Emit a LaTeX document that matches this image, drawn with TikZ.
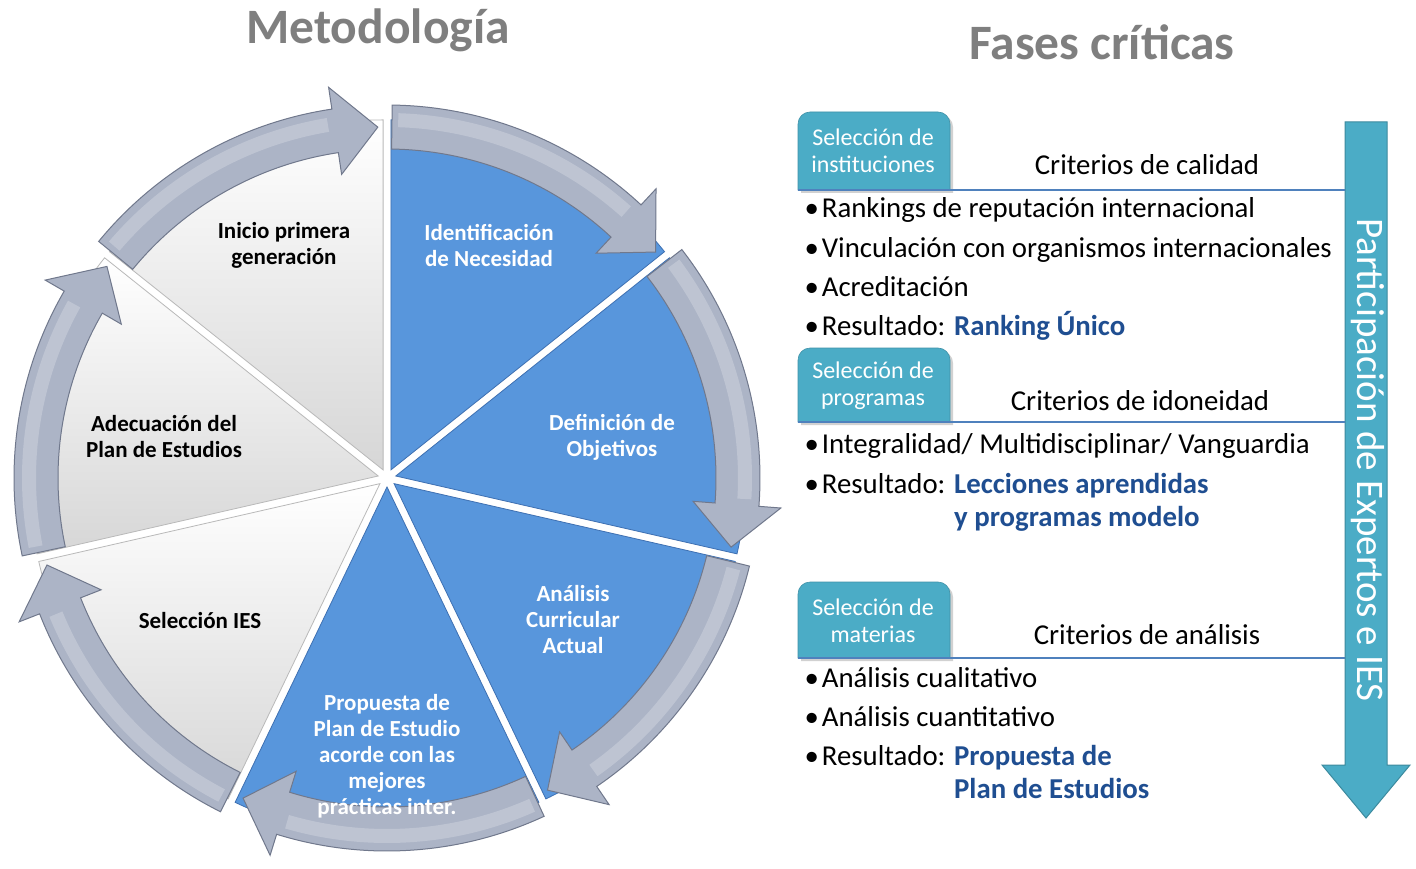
\documentclass[tikz,border=0pt]{standalone}
\usepackage{fontspec}
\setmainfont{Carlito}
\usetikzlibrary{calc}
\definecolor{wedgeblue}{RGB}{88,150,220}
\definecolor{wedgeblueedge}{RGB}{62,112,178}
\definecolor{arrowfill}{RGB}{172,180,198}
\definecolor{arrowedge}{RGB}{112,120,140}
\definecolor{tabteal}{RGB}{75,172,198}
\definecolor{linecol}{RGB}{79,129,189}
\definecolor{resblue}{RGB}{31,78,145}
\definecolor{titlegray}{RGB}{127,127,127}
\newcommand{\pieslice}[3]{%
  \begin{scope}[shift={({(#1+#2)/2}:9pt)}]
    \path[#3] (0,0) -- (#1:350pt) arc[start angle=#1, end angle=#2, radius=350pt] -- cycle;
  \end{scope}}
\newcommand{\cycarrow}[2]{%
  \path[cyc] (#1:373pt) arc[start angle=#1, end angle={#2+7}, radius=373pt]
    -- ({#2+7}:395pt) -- (#2:351pt) -- ({#2+7}:307pt) -- ({#2+7}:329pt)
    arc[start angle={#2+7}, end angle=#1, radius=329pt] -- cycle;
  \draw[white, opacity=0.22, line width=14pt] ({#1-1}:358pt) arc[start angle={#1-1}, end angle={#2+8}, radius=358pt];}
\begin{document}
\begin{tikzpicture}[x=1pt,y=-1pt,
  pielabel/.style={align=center, font=\fontsize{23}{26}\selectfont\bfseries},
  whitelabel/.style={pielabel, text=white},
  blacklabel/.style={pielabel, text=black},
  tabtext/.style={align=center, text=white, font=\fontsize{24}{27}\selectfont},
  crit/.style={anchor=base, font=\fontsize{28.8}{33}\selectfont},
  bulletline/.style={anchor=base west, font=\fontsize{28.8}{33}\selectfont},
  tabshape/.style={fill=tabteal, draw=tabteal!85!black, line width=0.6pt},
  tabrule/.style={draw=linecol, line width=1.6pt},
  bluewedge/.style={fill=wedgeblue, draw=wedgeblueedge, line width=0.8pt},
  graywedge/.style={top color=white, bottom color=gray!32, draw=gray!55, line width=0.8pt},
  cyc/.style={fill=arrowfill, draw=arrowedge, line width=1pt},
  titletext/.style={font=\fontsize{49.5}{52}\selectfont\bfseries, text=titlegray}
]
\fill[white] (0,0) rectangle (1416,869);
\useasboundingbox (0,0) rectangle (1416,869);

% titles
\node[titletext] (t1) at (378,30) {Metodología};
\node[titletext] (t2) at (1102,42) {Fases críticas};

% pie
\begin{scope}[shift={(387,478)}]
  \pieslice{90}{38.571}{bluewedge}
  \pieslice{38.571}{-12.857}{bluewedge}
  \pieslice{-12.857}{-64.286}{bluewedge}
  \pieslice{-64.286}{-115.714}{bluewedge}
  \pieslice{-115.714}{-167.143}{graywedge}
  \pieslice{-167.143}{-218.571}{graywedge}
  \pieslice{141.429}{90}{graywedge}
  \cycarrow{89.2}{40.071}
  \cycarrow{37.771}{-11.357}
  \cycarrow{-13.657}{-62.786}
  \cycarrow{-65.086}{-114.214}
  \cycarrow{-116.514}{-165.643}
  \cycarrow{-167.943}{-217.071}
  \cycarrow{140.629}{91.5}
\end{scope}

% pie labels
\node[blacklabel] (inicio) at (284,245) {Inicio primera\\generación};
\node[whitelabel] (ident) at (489,245) {Identificación\\de Necesidad};
\node[whitelabel] (defin) at (612,437) {Definición de\\Objetivos};
\node[whitelabel] (anal) at (573,620) {Análisis\\Curricular\\Actual};
\node[whitelabel] (prop) at (387,756) {Propuesta de\\Plan de Estudio\\acorde con las\\mejores\\prácticas inter.};
\node[blacklabel] (selies) at (200,621) {Selección IES};
\node[blacklabel] (adec) at (164,437) {Adecuación del\\Plan de Estudios};

% big arrow
\path[fill=tabteal, draw=tabteal!80!black, line width=1pt]
  (1345,122) -- (1387,122) -- (1387,765) -- (1410,765) -- (1366,818) -- (1322,765) -- (1345,765) -- cycle;
\node[rotate=-90, text=white, font=\fontsize{39}{44}\selectfont] (part) at (1368,460) {Participación de Expertos e IES};
\coordinate (ar1) at (1345,190);
\coordinate (ar2) at (1345,422);
\coordinate (ar3) at (1345,658);

% tab 1
\fill[black!18] (801,193) [rounded corners=12pt] -- (801,115) -- (953,115) [sharp corners] -- (953,193) -- cycle;
\path[tabshape] (798,190) [rounded corners=12pt] -- (798,112) -- (950,112) [sharp corners] -- (950,190) -- cycle;
\node[tabtext] (tab1) at (873,151) {Selección de\\instituciones};
\draw[tabrule] (798,190) -- (ar1);
\node[crit] (c1) at (1147,175) {Criterios de calidad};
\node[bulletline] (b11) at (801,218) {•\hspace{3pt}Rankings de reputación internacional};
\node[bulletline] (b12) at (801,257) {•\hspace{3pt}Vinculación con organismos internacionales};
\node[bulletline] (b13) at (801,296) {•\hspace{3pt}Acreditación};
\node[bulletline] (b14) at (801,335) {•\hspace{3pt}Resultado: \textcolor{resblue}{\bfseries Ranking Único}};

% tab 2
\fill[black!18] (801,425) [rounded corners=12pt] -- (801,351) -- (953,351) [sharp corners] -- (953,425) -- cycle;
\path[tabshape] (798,422) [rounded corners=12pt] -- (798,348) -- (950,348) [sharp corners] -- (950,422) -- cycle;
\node[tabtext] (tab2) at (873,386) {Selección de\\programas};
\draw[tabrule] (798,422) -- (ar2);
\node[crit] (c2) at (1140,410) {Criterios de idoneidad};
\node[bulletline] (b21) at (801,453) {•\hspace{3pt}Integralidad/ Multidisciplinar/ Vanguardia};
\node[bulletline] (b22) at (801,493) {•\hspace{3pt}Resultado: \textcolor{resblue}{\bfseries\begin{tabular}[t]{@{}l@{}}Lecciones aprendidas\\y programas modelo\end{tabular}}};

% tab 3
\fill[black!18] (801,661) [rounded corners=12pt] -- (801,585) -- (953,585) [sharp corners] -- (953,661) -- cycle;
\path[tabshape] (798,658) [rounded corners=12pt] -- (798,582) -- (950,582) [sharp corners] -- (950,658) -- cycle;
\node[tabtext] (tab3) at (873,621) {Selección de\\materias};
\draw[tabrule] (798,658) -- (ar3);
\node[crit] (c3) at (1147,644) {Criterios de análisis};
\node[bulletline] (b31) at (801,687) {•\hspace{3pt}Análisis cualitativo};
\node[bulletline] (b32) at (801,726) {•\hspace{3pt}Análisis cuantitativo};
\node[bulletline] (b33) at (801,765) {•\hspace{3pt}Resultado: \textcolor{resblue}{\bfseries\begin{tabular}[t]{@{}l@{}}Propuesta de\\Plan de Estudios\end{tabular}}};
\end{tikzpicture}
\end{document}
